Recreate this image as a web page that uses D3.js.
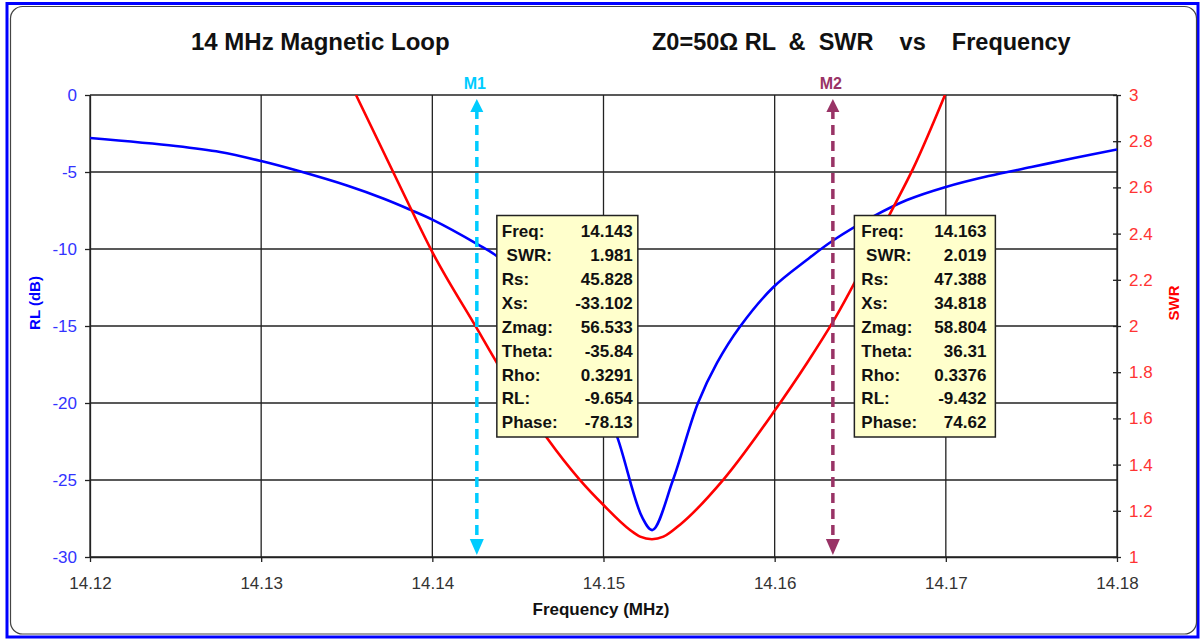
<!DOCTYPE html>
<html>
<head>
<meta charset="utf-8">
<script src="https://cdn.jsdelivr.net/npm/d3@7/dist/d3.min.js"></script>
<style>
  body { margin: 0; background: #fff; }
  svg text { font-family: "Liberation Sans", Arial, sans-serif; }
</style>
</head>
<body>
<div class="chart"></div>
<script>
// RL curve (dB)
const rlFreq = [14.1200, 14.1250, 14.1276, 14.1300, 14.1322, 14.1351, 14.13713,
  14.13869, 14.14006, 14.1426, 14.14376, 14.1460, 14.1480, 14.1495, 14.1508, 14.15225, 14.15286,
  14.15406, 14.15552, 14.15663, 14.15797, 14.1599, 14.16189, 14.16341, 14.16574,
  14.16773, 14.1700, 14.1725, 14.1750, 14.1775, 14.1800];
const rlValues = [-2.79, -3.31, -3.70, -4.29, -4.94, -5.91, -6.72,
  -7.44, -8.12, -9.66, -10.45, -12.8, -15.6, -18.6, -22.2, -27.4, -28.25,
  -25.0, -20.0, -17.4, -15.05, -12.5, -10.7, -9.45, -7.9,
  -6.82, -5.97, -5.26, -4.68, -4.09, -3.54];

// SWR curve
const swrFreq = [14.13554, 14.13869, 14.1400, 14.14267, 14.14378, 14.1452, 14.1467, 14.14863, 14.1500,
  14.15155, 14.15214, 14.15283, 14.1535, 14.15447, 14.15698, 14.1599, 14.16189, 14.16341,
  14.16691, 14.16808, 14.16995];
const swrValues = [3.0, 2.516, 2.32, 1.981, 1.84, 1.68, 1.515, 1.333, 1.225,
  1.117, 1.088, 1.077, 1.088, 1.14, 1.333, 1.623, 1.84, 2.019,
  2.51, 2.68, 3.0];

const freqTicks = [14.12, 14.13, 14.14, 14.15, 14.16, 14.17, 14.18];
const rlTicks = [-30, -25, -20, -15, -10, -5, 0];
const swrTicks = [1, 1.2, 1.4, 1.6, 1.8, 2, 2.2, 2.4, 2.6, 2.8, 3];

const markerNames = ["M1", "M2"];
const markerFreqs = [14.1426, 14.1634];
const boxLabels = ["Freq:", " SWR:", "Rs:", "Xs:", "Zmag:", "Theta:", "Rho:", "RL:", "Phase:"];
const m1Values = ["14.143", "1.981", "45.828", "-33.102", "56.533", "-35.84", "0.3291", "-9.654", "-78.13"];
const m2Values = ["14.163", "2.019", "47.388", "34.818", "58.804", "36.31", "0.3376", "-9.432", "74.62"];

const w = 1202, h = 639;
const margin = { top: 95, bottom: 82, left: 90, right: 85 };
const markerColors = ["#00ccff", "#993366"];

const svg = d3.select(".chart").append("svg")
  .attr("width", w).attr("height", h);

// frame
svg.append("rect").attr("x", 7).attr("y", 3.5).attr("width", 1191).attr("height", 633.5)
  .attr("fill", "#fff").attr("stroke", "#0000ff").attr("stroke-width", 3);
svg.append("rect").attr("x", 10.5).attr("y", 6.5).attr("width", 1186).attr("height", 627.5)
  .attr("rx", 12).attr("fill", "#fff").attr("stroke", "#444").attr("stroke-width", 1.2);

const xScale = d3.scaleLinear().domain([14.12, 14.18]).range([margin.left, w - margin.right]);
const yRL = d3.scaleLinear().domain([-30, 0]).range([h - margin.bottom, margin.top]);
const ySWR = d3.scaleLinear().domain([1, 3]).range([h - margin.bottom, margin.top]);

// grid
const grid = svg.append("g").attr("stroke", "#222").attr("stroke-width", 1.3);
grid.selectAll(".vg").data(freqTicks).enter().append("line")
  .attr("x1", d => xScale(d)).attr("x2", d => xScale(d))
  .attr("y1", yRL(0)).attr("y2", yRL(-30));
grid.selectAll(".hg").data(rlTicks).enter().append("line")
  .attr("x1", xScale(14.12)).attr("x2", xScale(14.18))
  .attr("y1", d => yRL(d)).attr("y2", d => yRL(d));

// axes
const xAxis = svg.append("g")
  .attr("transform", `translate(0, ${yRL(-30)})`)
  .call(d3.axisBottom(xScale).tickValues(freqTicks).tickFormat(d3.format(".2f"))
    .tickSize(5).tickSizeOuter(0).tickPadding(15));
xAxis.selectAll("text").attr("fill", "#333").style("font-size", "17px");

const yAxisL = svg.append("g")
  .attr("transform", `translate(${xScale(14.12)}, 0)`)
  .call(d3.axisLeft(yRL).tickValues(rlTicks).tickFormat(d => String(d))
    .tickSize(5).tickSizeOuter(0).tickPadding(8));
yAxisL.selectAll("text").attr("fill", "#3333ff").style("font-size", "17px");

const yAxisR = svg.append("g")
  .attr("transform", `translate(${xScale(14.18)}, 0)`)
  .call(d3.axisRight(ySWR).tickValues(swrTicks).tickFormat(d => String(+d.toFixed(1)))
    .tickSize(4).tickSizeOuter(0).tickPadding(8));
yAxisR.selectAll(".tick line").attr("x1", -4).attr("x2", 4);
yAxisR.selectAll("text").attr("fill", "#ff3333").style("font-size", "17px");

svg.selectAll(".domain, .tick line").attr("stroke", "#222").attr("stroke-width", 1.3);

// clip for curves
svg.append("clipPath").attr("id", "plot").append("rect")
  .attr("x", xScale(14.12)).attr("y", yRL(0))
  .attr("width", xScale(14.18) - xScale(14.12)).attr("height", yRL(-30) - yRL(0));

const rlLine = d3.line().x(d => xScale(d[0])).y(d => yRL(d[1])).curve(d3.curveCatmullRom.alpha(0.5));
const swrLine = d3.line().x(d => xScale(d[0])).y(d => ySWR(d[1])).curve(d3.curveMonotoneX);

const curves = svg.append("g").attr("clip-path", "url(#plot)");
curves.append("path").datum(d3.zip(rlFreq, rlValues))
  .attr("d", rlLine).attr("fill", "none").attr("stroke", "#0000ff").attr("stroke-width", 2.6);
curves.append("path").datum(d3.zip(swrFreq, swrValues))
  .attr("d", swrLine).attr("fill", "none").attr("stroke", "#ff0000").attr("stroke-width", 2.6);

// markers
markerFreqs.forEach((f, i) => {
  const mx = xScale(f);
  const col = markerColors[i];
  const top = yRL(0), bot = yRL(-30);
  svg.append("line").attr("x1", mx).attr("x2", mx).attr("y1", top + 14).attr("y2", bot - 14)
    .attr("stroke", col).attr("stroke-width", 3.5).attr("stroke-dasharray", "10,6");
  svg.append("path").attr("d", `M${mx},${top + 4}L${mx - 6.5},${top + 17}L${mx + 6.5},${top + 17}Z`).attr("fill", col);
  svg.append("path").attr("d", `M${mx},${bot - 2}L${mx - 7},${bot - 18}L${mx + 7},${bot - 18}Z`).attr("fill", col);
  svg.append("text").attr("x", mx - 2).attr("y", 89).attr("text-anchor", "middle")
    .attr("fill", col).style("font-size", "16px").style("font-weight", "bold").text(markerNames[i]);
});

// data boxes
function dataBox(f, values, dx, valRight, labLeft) {
  const bx = xScale(f) + dx;
  const g = svg.append("g");
  g.append("rect").attr("x", bx).attr("y", 215.5).attr("width", 141).attr("height", 221.5)
    .attr("fill", "#ffffcc").attr("stroke", "#222").attr("stroke-width", 1.5);
  boxLabels.forEach((lab, k) => {
    const ty = 230.7 + k * 23.95;
    g.append("text").attr("x", bx + labLeft).attr("y", ty).attr("dy", "0.36em")
      .style("white-space", "pre").style("font-size", "17px").style("font-weight", "bold")
      .attr("fill", "#111").text(lab);
    g.append("text").attr("x", bx + valRight).attr("y", ty).attr("dy", "0.36em")
      .attr("text-anchor", "end").style("font-size", "17px").style("font-weight", "bold")
      .attr("fill", "#111").text(values[k]);
  });
}
dataBox(markerFreqs[0], m1Values, 20, 136, 5);
dataBox(markerFreqs[1], m2Values, 21.5, 132, 7);

// titles
svg.append("text").attr("x", 191).attr("y", 50).style("font-size", "24px").style("font-weight", "bold")
  .attr("fill", "#111").text("14 MHz Magnetic Loop");
svg.append("text").attr("x", 652).attr("y", 50).style("font-size", "23.5px").style("font-weight", "bold")
  .style("white-space", "pre").attr("fill", "#111").text("Z0=50\u03A9 RL  &  SWR    vs    Frequency");

svg.append("text").attr("x", 601).attr("y", 615).attr("text-anchor", "middle")
  .style("font-size", "17px").style("font-weight", "bold").attr("fill", "#111").text("Frequency (MHz)");
svg.append("text").attr("transform", "translate(40, 303) rotate(-90)").attr("text-anchor", "middle")
  .style("font-size", "15px").style("font-weight", "bold").attr("fill", "#0000ff").text("RL (dB)");
svg.append("text").attr("transform", "translate(1179, 303) rotate(-90)").attr("text-anchor", "middle")
  .style("font-size", "15px").style("font-weight", "bold").attr("fill", "#ff0000").text("SWR");
</script>
</body>
</html>
